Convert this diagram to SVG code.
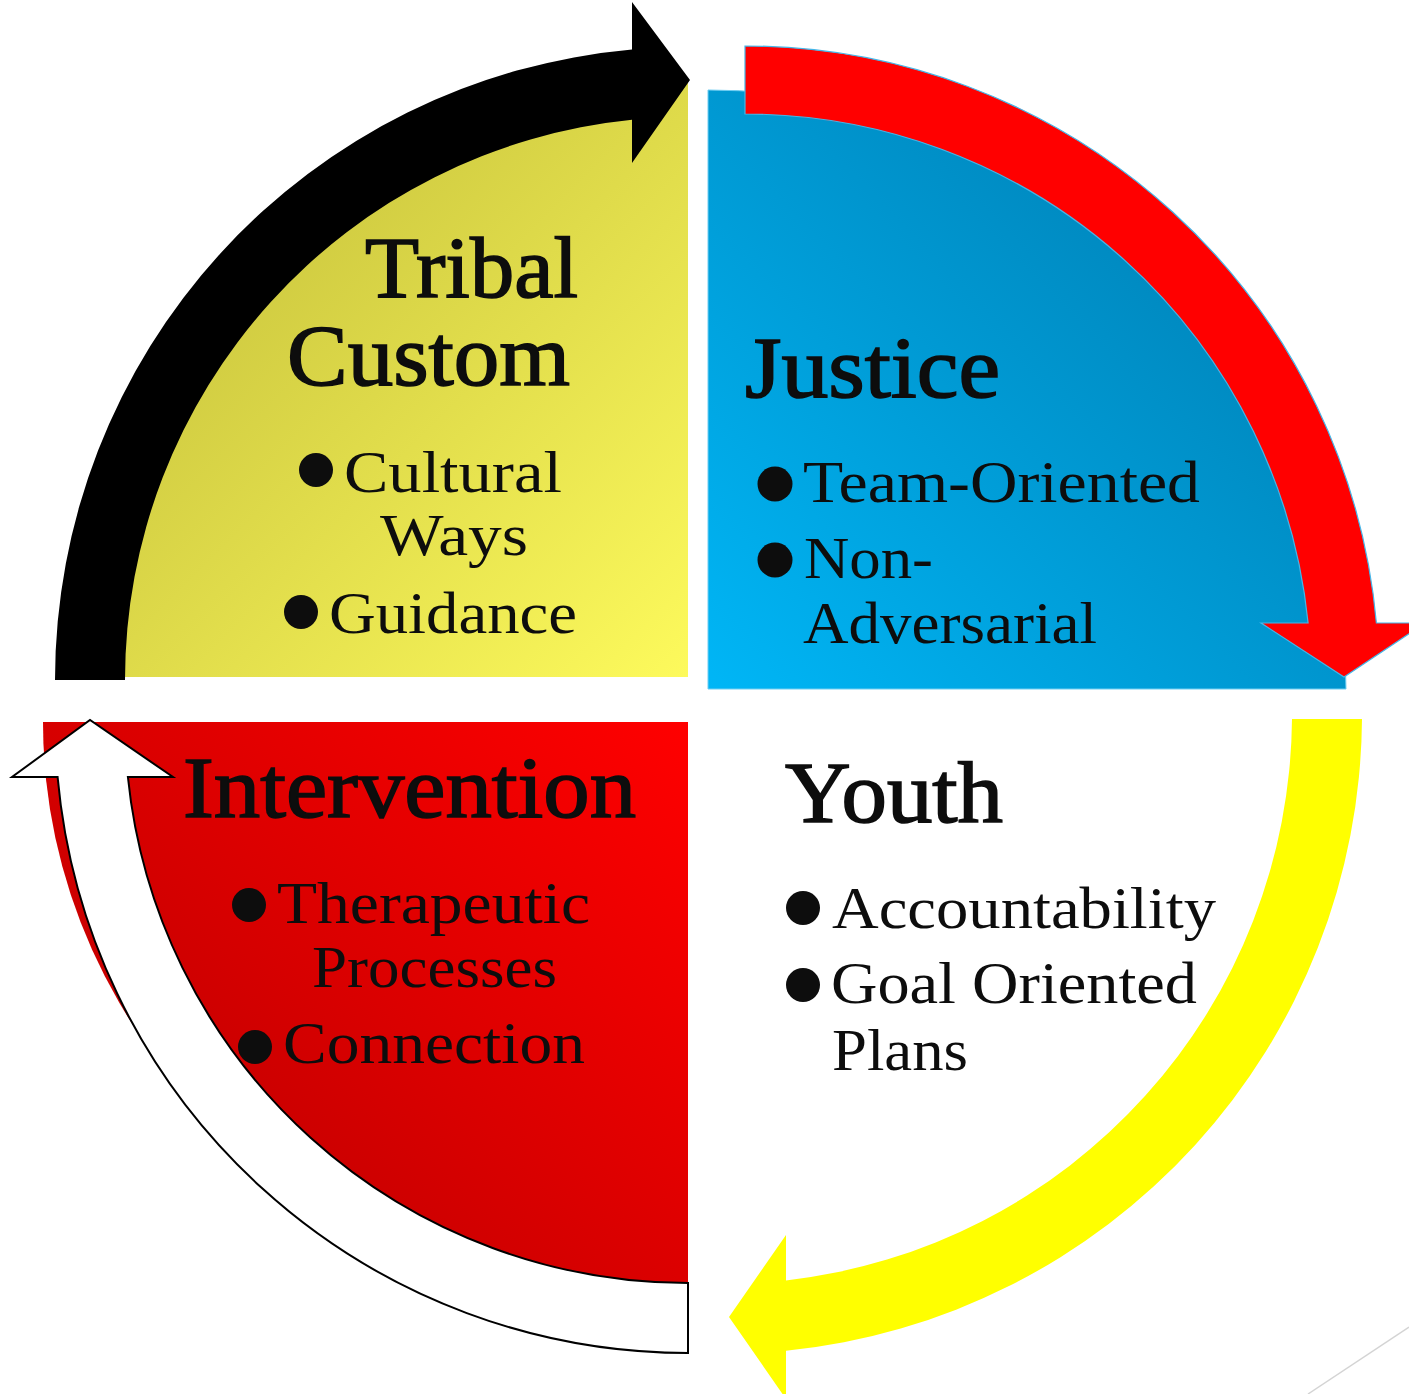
<svg xmlns="http://www.w3.org/2000/svg" width="1409" height="1394" viewBox="0 0 1409 1394">
  <defs>
    <linearGradient id="gYellow" gradientUnits="userSpaceOnUse" x1="150" y1="150" x2="688" y2="677">
      <stop offset="0" stop-color="#c4bf3a"/>
      <stop offset="1" stop-color="#fdfa5c"/>
    </linearGradient>
    <linearGradient id="gBlue" gradientUnits="userSpaceOnUse" x1="708" y1="689" x2="1180" y2="230">
      <stop offset="0" stop-color="#00b6f6"/>
      <stop offset="1" stop-color="#0087bd"/>
    </linearGradient>
    <linearGradient id="gRed" gradientUnits="userSpaceOnUse" x1="688" y1="722" x2="200" y2="1210">
      <stop offset="0" stop-color="#ff0000"/>
      <stop offset="1" stop-color="#c20000"/>
    </linearGradient>
    <style>
      .head { font-family: "Liberation Serif", "DejaVu Serif", serif; font-size: 86px; fill: #0d0d0d; stroke: #0d0d0d; stroke-width: 1.6px; }
      .item { font-family: "Liberation Serif", "DejaVu Serif", serif; font-size: 60px; fill: #0d0d0d; }
      .dot { fill: #0d0d0d; }
    </style>
  </defs>
  <rect x="0" y="0" width="1409" height="1394" fill="#ffffff"/>

  <g id="tribal-custom">
    <path d="M688,677 L93,677 A595,595 0 0 1 688,82 Z" fill="url(#gYellow)"/>
  </g>
  <g id="justice">
    <path d="M708,689 L708,90 A638,599 0 0 1 1346,689 Z" fill="url(#gBlue)" stroke="#6fcdf2" stroke-width="1"/>
  </g>
  <g id="intervention">
    <path d="M688,722 L43,722 A645,595 0 0 0 688,1317 Z" fill="url(#gRed)"/>
  </g>

  <g id="connectors">
    <path id="arrow-black" d="M55,680 A633,633 0 0 1 632,49.5 L632,2 L690,80 L632,163 L632,119.8 A563,563 0 0 0 125,680 Z" fill="#000000"/>
    <path id="arrow-red" d="M745,46 A634,634 0 0 1 1376.4,623 L1425,623 L1344,677 L1261,623 L1308.1,623 A566,566 0 0 0 745,114 Z" fill="#ff0000" stroke="#45b6e8" stroke-width="1.2"/>
    <path id="arrow-yellow" d="M1362,719 A640,640 0 0 1 786,1350.8 L786,1399 L729,1317 L786,1235 L786,1280.4 A570,570 0 0 0 1292,719 Z" fill="#ffff00"/>
    <path id="arrow-white" d="M688,1353 A633,633 0 0 1 57.6,777 L12,777 L90,720 L173,777 L127.9,777 A563,563 0 0 0 688,1283 Z" fill="#ffffff" stroke="#000000" stroke-width="2" stroke-linejoin="miter"/>
  </g>

  <g id="tribal-custom-text">
    <text class="head" x="365" y="297" textLength="213" lengthAdjust="spacingAndGlyphs">Tribal</text>
    <text class="head" x="287" y="385" textLength="283" lengthAdjust="spacingAndGlyphs">Custom</text>
    <circle class="dot" cx="316" cy="470" r="17"/>
    <text class="item" x="344" y="492" textLength="218" lengthAdjust="spacingAndGlyphs">Cultural</text>
    <text class="item" x="380" y="555" textLength="148" lengthAdjust="spacingAndGlyphs">Ways</text>
    <circle class="dot" cx="301" cy="612" r="17"/>
    <text class="item" x="329" y="633" textLength="248" lengthAdjust="spacingAndGlyphs">Guidance</text>
  </g>

  <g id="justice-text">
    <text class="head" x="745" y="397" textLength="255" lengthAdjust="spacingAndGlyphs">Justice</text>
    <circle class="dot" cx="775" cy="484" r="17.5"/>
    <text class="item" x="803" y="502" textLength="397" lengthAdjust="spacingAndGlyphs">Team-Oriented</text>
    <circle class="dot" cx="775" cy="560" r="17.5"/>
    <text class="item" x="804" y="578" textLength="129" lengthAdjust="spacingAndGlyphs">Non-</text>
    <text class="item" x="803" y="643" textLength="294" lengthAdjust="spacingAndGlyphs">Adversarial</text>
  </g>

  <g id="youth">
    <text class="head" x="785" y="822" textLength="218" lengthAdjust="spacingAndGlyphs">Youth</text>
    <circle class="dot" cx="803" cy="908" r="17"/>
    <text class="item" x="832" y="928" textLength="384" lengthAdjust="spacingAndGlyphs">Accountability</text>
    <circle class="dot" cx="803" cy="985" r="17"/>
    <text class="item" x="831" y="1003" textLength="366" lengthAdjust="spacingAndGlyphs">Goal Oriented</text>
    <text class="item" x="832" y="1070" textLength="136" lengthAdjust="spacingAndGlyphs">Plans</text>
  </g>

  <g id="intervention-text">
    <text class="head" x="183" y="817" textLength="453" lengthAdjust="spacingAndGlyphs">Intervention</text>
    <circle class="dot" cx="249" cy="905" r="17"/>
    <text class="item" x="277" y="923" textLength="313" lengthAdjust="spacingAndGlyphs">Therapeutic</text>
    <text class="item" x="312" y="987" textLength="245" lengthAdjust="spacingAndGlyphs">Processes</text>
    <circle class="dot" cx="255" cy="1047" r="17"/>
    <text class="item" x="283" y="1063" textLength="302" lengthAdjust="spacingAndGlyphs">Connection</text>
  </g>

  <line x1="1308" y1="1394" x2="1409" y2="1327" stroke="#d4d4d4" stroke-width="1.5"/>
</svg>
